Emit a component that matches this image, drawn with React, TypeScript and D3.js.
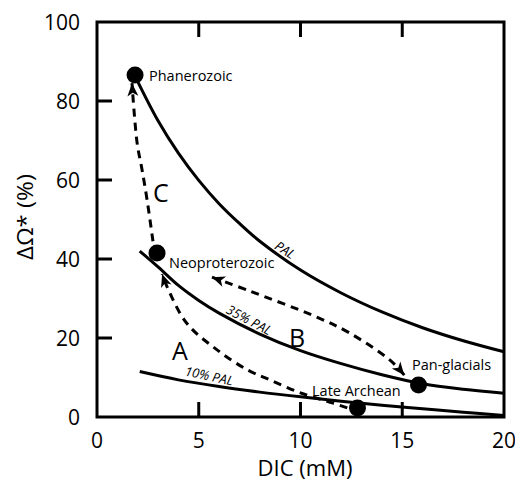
import React, { useEffect, useRef } from 'react';
import * as d3 from 'd3';

// curves (DIC in mM, delta omega in %)
const palDic = [1.85, 3, 4, 5, 6, 7, 8, 10, 12, 14, 16, 18, 20];
const palOmega = [86.5, 75, 66.8, 59.9, 54, 49, 44.5, 37.2, 31.4, 26.6, 22.6, 19.3, 16.5];
const pal35Dic = [2.1, 3, 4, 5, 6, 8, 10, 12, 14, 16, 18, 20];
const pal35Omega = [42, 38, 33.3, 29.5, 26.3, 21, 16.8, 13.5, 10.7, 8.4, 7, 6];
const pal10Dic = [2.1, 4, 6, 8, 10, 12, 14, 16, 18, 20];
const pal10Omega = [11.5, 9.4, 7.7, 6.3, 5.1, 4, 3, 2.1, 1.2, 0.4];

// dashed transitions
const pathADic = [12.3, 11.6, 10, 8.5, 7.4, 5.9, 4.4, 3.45, 3.2];
const pathAOmega = [2.3, 3.5, 6.1, 9.4, 11.9, 17, 23.8, 32.9, 36.2];
const pathBDic = [5.65, 7.5, 10.8, 12.4, 14.4, 15.1];
const pathBOmega = [35.4, 31.9, 25.3, 21.3, 14.4, 10.6];
const pathCDic = [2.75, 2.46, 2.2, 1.97, 1.72];
const pathCOmega = [44.5, 55, 63, 69.4, 84.5];

const stateNames = ['Phanerozoic', 'Neoproterozoic', 'Pan-glacials', 'Late Archean'];
const stateDic = [1.87, 2.95, 15.8, 12.8];
const stateOmega = [86.6, 41.5, 8.1, 2.3];

const xTicks = [0, 5, 10, 15, 20];
const yTicks = [0, 20, 40, 60, 80, 100];

const zip = (a: number[], b: number[]) => a.map((v, i) => [v, b[i]] as [number, number]);

export default function App() {
  const ref = useRef<SVGSVGElement>(null);

  useEffect(() => {
    const width = 515;
    const height = 492;
    const left = 97, right = 504, top = 22, bottom = 417;
    const font = "'Open Sans', 'Noto Sans', sans-serif";

    const svg = d3.select(ref.current);
    svg.selectAll('*').remove();
    svg.attr('width', width).attr('height', height);

    const x = d3.scaleLinear().domain([0, 20]).range([left, right]);
    const y = d3.scaleLinear().domain([0, 100]).range([bottom, top]);

    const line = d3.line<[number, number]>()
      .curve(d3.curveCatmullRom.alpha(0.5))
      .x(d => x(d[0]))
      .y(d => y(d[1]));

    // arrow head
    const defs = svg.append('defs');
    defs.append('marker')
      .attr('id', 'head')
      .attr('markerUnits', 'userSpaceOnUse')
      .attr('markerWidth', 30)
      .attr('markerHeight', 30)
      .attr('viewBox', '-15 -15 30 30')
      .attr('refX', 0)
      .attr('refY', 0)
      .attr('orient', 'auto-start-reverse')
      .append('path')
      .attr('d', 'M0,0 L-13,-5.5 L-9.5,0 L-13,5.5 Z')
      .attr('fill', 'black');

    // frame
    svg.append('rect')
      .attr('x', left).attr('y', top)
      .attr('width', right - left).attr('height', bottom - top)
      .attr('fill', 'none').attr('stroke', 'black').attr('stroke-width', 3);

    // inward ticks
    xTicks.slice(1, -1).forEach(t => {
      svg.append('line').attr('x1', x(t)).attr('x2', x(t)).attr('y1', bottom).attr('y2', bottom - 15)
        .attr('stroke', 'black').attr('stroke-width', 3);
      svg.append('line').attr('x1', x(t)).attr('x2', x(t)).attr('y1', top).attr('y2', top + 15)
        .attr('stroke', 'black').attr('stroke-width', 3);
    });
    yTicks.slice(1, -1).forEach(t => {
      svg.append('line').attr('x1', left).attr('x2', left + 15).attr('y1', y(t)).attr('y2', y(t))
        .attr('stroke', 'black').attr('stroke-width', 3);
    });

    svg.append('g').selectAll('text').data(xTicks).join('text')
      .attr('x', d => x(d)).attr('y', 448)
      .attr('text-anchor', 'middle')
      .attr('font-family', font).attr('font-size', 21)
      .text(d => d);
    svg.append('g').selectAll('text').data(yTicks).join('text')
      .attr('x', 80).attr('y', d => y(d) + 7.5)
      .attr('text-anchor', 'end')
      .attr('font-family', font).attr('font-size', 21)
      .text(d => d);

    svg.append('text')
      .attr('x', 305).attr('y', 476)
      .attr('text-anchor', 'middle')
      .attr('font-family', font).attr('font-size', 22)
      .text('DIC (mM)');
    svg.append('text')
      .attr('transform', 'translate(33,217) rotate(-90)')
      .attr('text-anchor', 'middle')
      .attr('font-family', font).attr('font-size', 22)
      .attr('textLength', 86).attr('lengthAdjust', 'spacingAndGlyphs')
      .text('ΔΩ* (%)');

    // solid curves
    [[palDic, palOmega], [pal35Dic, pal35Omega], [pal10Dic, pal10Omega]].forEach(([a, b]) => {
      svg.append('path')
        .attr('d', line(zip(a, b)))
        .attr('fill', 'none').attr('stroke', 'black').attr('stroke-width', 3);
    });

    // dashed arrows
    const dashed = (a: number[], b: number[], both: boolean) => {
      const p = svg.append('path')
        .attr('d', line(zip(a, b)))
        .attr('fill', 'none').attr('stroke', 'black').attr('stroke-width', 3)
        .attr('stroke-dasharray', '8,6')
        .attr('marker-end', 'url(#head)');
      if (both) p.attr('marker-start', 'url(#head)');
    };
    dashed(pathADic, pathAOmega, false);
    dashed(pathBDic, pathBOmega, true);
    dashed(pathCDic, pathCOmega, false);

    // states
    svg.append('g').selectAll('circle').data(stateDic).join('circle')
      .attr('cx', d => x(d)).attr('cy', (d, i) => y(stateOmega[i]))
      .attr('r', 8.5).attr('fill', 'black');

    const labelPos = [[149, 81], [169, 268], [412, 370], [312, 396]];
    svg.append('g').selectAll('text').data(stateNames).join('text')
      .attr('x', (d, i) => labelPos[i][0]).attr('y', (d, i) => labelPos[i][1])
      .attr('font-family', font).attr('font-size', 14.5)
      .text(d => d);

    // curve labels
    const curveLabels = [['PAL', 285, 250, 33], ['35% PAL', 249, 320, 28], ['10% PAL', 209, 376, 12]];
    curveLabels.forEach(([t, cx, cy, r]) => {
      svg.append('text')
        .attr('transform', `translate(${cx},${cy}) rotate(${r})`)
        .attr('text-anchor', 'middle').attr('dy', '0.35em')
        .attr('font-family', font).attr('font-size', 13).attr('font-style', 'italic')
        .text(t as string);
    });

    const letters = [['A', 172, 360], ['B', 289, 347], ['C', 153, 202]];
    letters.forEach(([t, lx, ly]) => {
      svg.append('text')
        .attr('x', lx).attr('y', ly)
        .attr('font-family', font).attr('font-size', 25)
        .text(t as string);
    });
  }, []);

  return <svg ref={ref} style={{ position: 'absolute', left: 0, top: 0 }}></svg>;
}
